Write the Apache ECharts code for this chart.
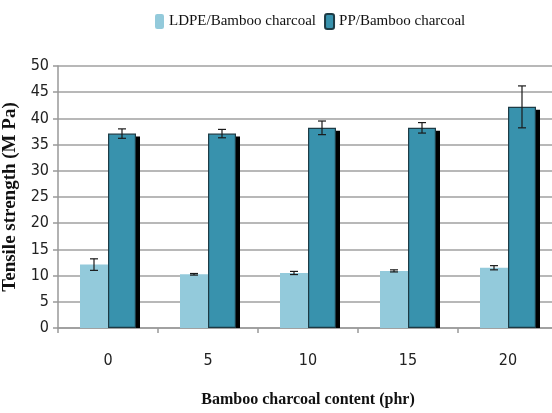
<!DOCTYPE html>
<html>
<head>
<meta charset="utf-8">
<script src="https://cdn.jsdelivr.net/npm/echarts@6/dist/echarts.min.js"></script>
<style>
  html, body { margin: 0; padding: 0; background: #fff; }
  #chart { width: 552px; height: 413px; }
</style>
</head>
<body>
<div id="chart"></div>
<script>
// Bamboo charcoal content (phr)
const categories = ['0', '5', '10', '15', '20'];

// Tensile strength (MPa), mean values
const ldpeValues = [12.1, 10.25, 10.5, 10.9, 11.5];
const ppValues = [37.1, 37.1, 38.2, 38.2, 42.2];

// Standard deviations for the error bars
const ldpeErrors = [1.1, 0.15, 0.3, 0.2, 0.4];
const ppErrors = [0.9, 0.8, 1.3, 1.0, 4.0];

const ldpeName = 'LDPE/Bamboo charcoal';
const ppName = 'PP/Bamboo charcoal';

const BAR_W = 28;
const narrowFont = '"DejaVu Sans Condensed", "Liberation Sans Narrow", "Liberation Sans", sans-serif';
const serifFont = '"Liberation Serif", "DejaVu Serif", serif';

function errorSeries(values, errors, offset) {
  return {
    type: 'custom',
    silent: true,
    z: 5,
    data: values.map((v, i) => [i, v - errors[i], v + errors[i]]),
    renderItem: function (params, api) {
      const lo = api.coord([api.value(0), api.value(1)]);
      const hi = api.coord([api.value(0), api.value(2)]);
      const x = lo[0] + offset;
      const cap = 4;
      const style = { stroke: '#1a1a1a', lineWidth: 1.2 };
      return {
        type: 'group',
        children: [
          { type: 'line', shape: { x1: x, y1: lo[1], x2: x, y2: hi[1] }, style: style },
          { type: 'line', shape: { x1: x - cap, y1: lo[1], x2: x + cap, y2: lo[1] }, style: style },
          { type: 'line', shape: { x1: x - cap, y1: hi[1], x2: x + cap, y2: hi[1] }, style: style }
        ]
      };
    }
  };
}

// Solid black drop shadow on the right side of the PP bars, stopping at the axis
const ppShadow = {
  type: 'custom',
  silent: true,
  z: 1,
  data: ppValues.map((v, i) => [i, v]),
  renderItem: function (params, api) {
    const top = api.coord([api.value(0), api.value(1)]);
    const base = api.coord([api.value(0), 0]);
    const x = top[0] + BAR_W;
    return {
      type: 'rect',
      shape: { x: x - 2, y: top[1] + 3, width: 6, height: base[1] - top[1] - 3 },
      style: { fill: '#000' }
    };
  }
};

const chart = echarts.init(document.getElementById('chart'));
chart.setOption({
  animation: false,
  legend: {
    data: [ldpeName, ppName],
    top: 8,
    left: 150,
    itemWidth: 9,
    itemHeight: 15,
    itemGap: 8,
    textStyle: { fontFamily: serifFont, fontSize: 15, color: '#111' }
  },
  grid: { left: 58, width: 500, top: 66, height: 262, outerBoundsMode: 'none', containLabel: false },
  xAxis: {
    type: 'category',
    data: categories,
    axisLine: { lineStyle: { color: '#999', width: 1.5 } },
    axisTick: { show: true, length: 5, lineStyle: { color: '#999', width: 1.5 } },
    axisLabel: { fontFamily: narrowFont, fontSize: 16, color: '#222', margin: 25 },
    name: 'Bamboo charcoal content (phr)',
    nameLocation: 'middle',
    nameGap: 64,
    nameTextStyle: { fontFamily: serifFont, fontSize: 16, fontWeight: 'bold', color: '#111' }
  },
  yAxis: {
    type: 'value',
    min: 0,
    max: 50,
    interval: 5,
    axisLine: { show: true, lineStyle: { color: '#999', width: 1.5 } },
    axisTick: { show: true, length: 5, lineStyle: { color: '#999', width: 1.5 } },
    axisLabel: { fontFamily: narrowFont, fontSize: 16, color: '#222', margin: 9 },
    splitLine: { lineStyle: { color: '#a0a0a0', width: 1.5 } },
    name: 'Tensile strength (M Pa)',
    nameLocation: 'middle',
    nameRotate: 90,
    nameGap: 36,
    nameTextStyle: { fontFamily: serifFont, fontSize: 19, fontWeight: 'bold', color: '#111' }
  },
  series: [
    {
      name: ldpeName,
      type: 'bar',
      data: ldpeValues,
      barWidth: BAR_W,
      barGap: '0%',
      z: 2,
      itemStyle: { color: '#93cadb' }
    },
    {
      name: ppName,
      type: 'bar',
      data: ppValues,
      barWidth: BAR_W,
      barGap: '0%',
      z: 3,
      itemStyle: {
        color: '#3892ad',
        borderColor: '#1d3b45',
        borderWidth: 1.2
      }
    },
    ppShadow,
    errorSeries(ldpeValues, ldpeErrors, -BAR_W / 2),
    errorSeries(ppValues, ppErrors, BAR_W / 2)
  ]
});
</script>
</body>
</html>
